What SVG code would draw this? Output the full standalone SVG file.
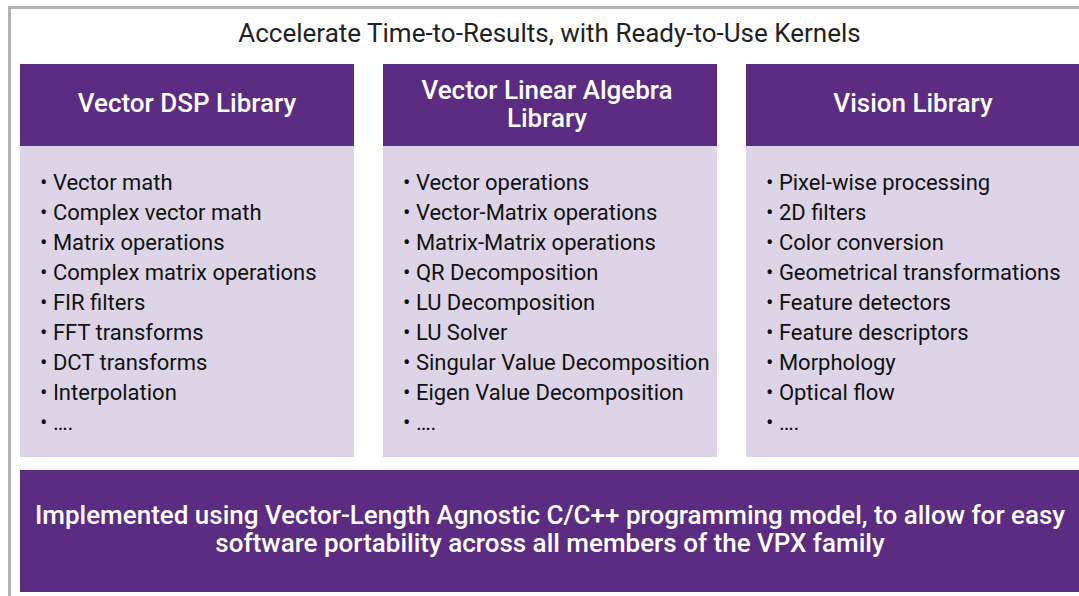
<svg xmlns="http://www.w3.org/2000/svg" width="1079" height="596" viewBox="0 0 1079 596">
<style>
.hd{fill:#5b2c82}
.bd{fill:#ddd5e7}
.ht{font-family:Roboto,"Liberation Sans",sans-serif;font-weight:500;font-size:26px;fill:#fff;text-anchor:middle}
.li{font-family:Roboto,"Liberation Sans",sans-serif;font-size:22px;fill:#111}
.tt{font-family:Roboto,"Liberation Sans",sans-serif;font-size:26px;fill:#222;text-anchor:middle}
</style>
<rect width="1079" height="596" fill="#fff"/>
<rect x="9.5" y="7.5" width="1100" height="620" fill="none" stroke="#b3b3b3" stroke-width="3"/>
<text class="tt" x="549.5" y="42">Accelerate Time-to-Results, with Ready-to-Use Kernels</text>
<g id="dsp">
<rect class="hd" x="20" y="64" width="334" height="82"/>
<rect class="bd" x="20" y="146" width="334" height="311"/>
<text class="ht" x="187" y="112">Vector DSP Library</text>
<text class="li" x="40" y="190">• Vector math</text>
<text class="li" x="40" y="220">• Complex vector math</text>
<text class="li" x="40" y="250">• Matrix operations</text>
<text class="li" x="40" y="280">• Complex matrix operations</text>
<text class="li" x="40" y="310">• FIR filters</text>
<text class="li" x="40" y="340">• FFT transforms</text>
<text class="li" x="40" y="370">• DCT transforms</text>
<text class="li" x="40" y="400">• Interpolation</text>
<text class="li" x="40" y="430">• ….</text>
</g>
<g id="linalg">
<rect class="hd" x="383" y="64" width="334" height="82"/>
<rect class="bd" x="383" y="146" width="334" height="311"/>
<text class="ht" x="547" y="99">Vector Linear Algebra</text>
<text class="ht" x="547" y="127">Library</text>
<text class="li" x="403" y="190">• Vector operations</text>
<text class="li" x="403" y="220">• Vector-Matrix operations</text>
<text class="li" x="403" y="250">• Matrix-Matrix operations</text>
<text class="li" x="403" y="280">• QR Decomposition</text>
<text class="li" x="403" y="310">• LU Decomposition</text>
<text class="li" x="403" y="340">• LU Solver</text>
<text class="li" x="403" y="370">• Singular Value Decomposition</text>
<text class="li" x="403" y="400">• Eigen Value Decomposition</text>
<text class="li" x="403" y="430">• ….</text>
</g>
<g id="vision">
<rect class="hd" x="746" y="64" width="340" height="82"/>
<rect class="bd" x="746" y="146" width="340" height="311"/>
<text class="ht" x="913" y="112">Vision Library</text>
<text class="li" x="766" y="190">• Pixel-wise processing</text>
<text class="li" x="766" y="220">• 2D filters</text>
<text class="li" x="766" y="250">• Color conversion</text>
<text class="li" x="766" y="280">• Geometrical transformations</text>
<text class="li" x="766" y="310">• Feature detectors</text>
<text class="li" x="766" y="340">• Feature descriptors</text>
<text class="li" x="766" y="370">• Morphology</text>
<text class="li" x="766" y="400">• Optical flow</text>
<text class="li" x="766" y="430">• ….</text>
</g>
<g id="impl">
<rect class="hd" x="20" y="470" width="1070" height="122"/>
<text class="ht" x="550" y="524">Implemented using Vector-Length Agnostic C/C++ programming model, to allow for easy</text>
<text class="ht" x="550" y="552">software portability across all members of the VPX family</text>
</g>
<g id="connectors"/>
</svg>
